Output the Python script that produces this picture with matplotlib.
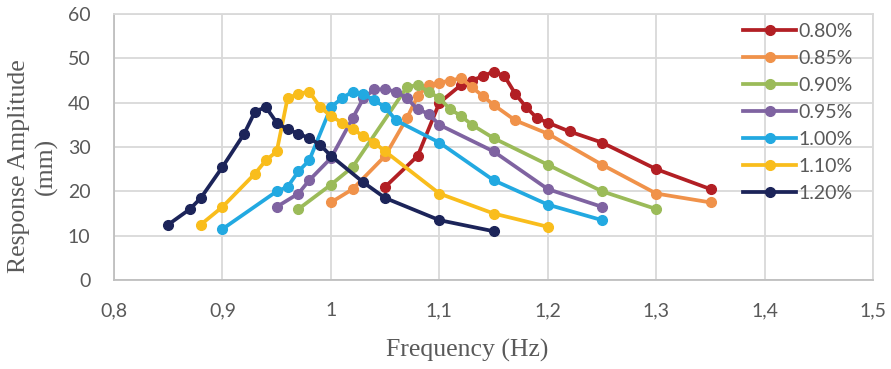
import matplotlib
matplotlib.use("Agg")
import matplotlib.pyplot as plt

# Frequency (Hz) and response amplitude (mm) for each damping ratio
f_080 = [1.05, 1.08, 1.10, 1.12, 1.13, 1.14, 1.15, 1.16, 1.17, 1.18, 1.19, 1.20, 1.22, 1.25, 1.30, 1.35]
a_080 = [21, 28, 40, 44, 45, 46, 47, 46, 42, 39, 36.5, 35.5, 33.5, 31, 25, 20.5]

f_085 = [1.00, 1.02, 1.05, 1.07, 1.08, 1.09, 1.10, 1.11, 1.12, 1.13, 1.14, 1.15, 1.17, 1.20, 1.25, 1.30, 1.35]
a_085 = [17.5, 20.5, 28, 36.5, 41.5, 44, 44.5, 45, 45.5, 43.5, 41.5, 39.5, 36, 33, 26, 19.5, 17.5]

f_090 = [0.97, 1.00, 1.02, 1.07, 1.08, 1.09, 1.10, 1.11, 1.12, 1.13, 1.15, 1.20, 1.25, 1.30]
a_090 = [16, 21.5, 25.5, 43.5, 44, 42.5, 41, 38.5, 37, 35, 32, 26, 20, 16]

f_095 = [0.95, 0.97, 0.98, 1.00, 1.02, 1.03, 1.04, 1.05, 1.06, 1.07, 1.08, 1.09, 1.10, 1.15, 1.20, 1.25]
a_095 = [16.5, 19.5, 22.5, 27.5, 36.5, 41, 43, 43, 42.5, 41, 38.5, 37.5, 35, 29, 20.5, 16.5]

f_100 = [0.90, 0.95, 0.96, 0.97, 0.98, 1.00, 1.01, 1.02, 1.03, 1.04, 1.05, 1.06, 1.10, 1.15, 1.20, 1.25]
a_100 = [11.5, 20, 21, 24.5, 27, 39, 41, 42.5, 42, 40.5, 39, 36, 31, 22.5, 17, 13.5]

f_110 = [0.88, 0.90, 0.93, 0.94, 0.95, 0.96, 0.97, 0.98, 0.99, 1.00, 1.01, 1.02, 1.03, 1.04, 1.05, 1.10, 1.15, 1.20]
a_110 = [12.5, 16.5, 24, 27, 29, 41, 42, 42.5, 39, 37, 35.5, 34, 32.5, 31, 29, 19.5, 15, 12]

f_120 = [0.85, 0.87, 0.88, 0.90, 0.92, 0.93, 0.94, 0.95, 0.96, 0.97, 0.98, 0.99, 1.00, 1.03, 1.05, 1.10, 1.15]
a_120 = [12.5, 16, 18.5, 25.5, 33, 38, 39, 35.5, 34, 33, 32, 30.5, 28, 22, 18.5, 13.5, 11]

labels = ["0.80%", "0.85%", "0.90%", "0.95%", "1.00%", "1.10%", "1.20%"]
colors = ["#B21F24", "#F0924A", "#9BBB59", "#7F63A1", "#22A9E1", "#F9BD1C", "#1C2459"]

x_ticks = [0.8, 0.9, 1.0, 1.1, 1.2, 1.3, 1.4, 1.5]
x_tick_labels = ["0,8", "0,9", "1", "1,1", "1,2", "1,3", "1,4", "1,5"]
y_ticks = [0, 10, 20, 30, 40, 50, 60]

series = [(f_080, a_080), (f_085, a_085), (f_090, a_090), (f_095, a_095),
          (f_100, a_100), (f_110, a_110), (f_120, a_120)]

W, H = 891, 369
fig = plt.figure(figsize=(W / 100, H / 100), dpi=100)
ax = fig.add_axes([0.128, 0.2412, 0.852, 0.7208])

for (fx, ay), lab, col in zip(series, labels, colors):
    ax.plot(fx, ay, color=col, linewidth=2.7, marker="o", markersize=7,
            label=lab, solid_joinstyle="round", zorder=3)

ax.set_xlim(0.8, 1.5)
ax.set_ylim(0, 60)
ax.set_xticks(x_ticks)
ax.set_xticklabels(x_tick_labels)
ax.set_yticks(y_ticks)

grid_col = "#D9D9D9"
ax.grid(True, color=grid_col, linewidth=1.3, zorder=0)
ax.set_axisbelow(True)
for side in ["top", "right"]:
    ax.spines[side].set_color(grid_col)
    ax.spines[side].set_linewidth(1.3)
for side in ["left", "bottom"]:
    ax.spines[side].set_color("#BFBFBF")
    ax.spines[side].set_linewidth(1.3)

ax.tick_params(length=0, labelsize=14, labelcolor="#595959")
ax.tick_params(axis="y", pad=17)
ax.tick_params(axis="x", pad=16)
for t in ax.get_xticklabels() + ax.get_yticklabels():
    t.set_family("Lato")

fig.text(467 / W, 1 - 350 / H, "Frequency (Hz)", family="Liberation Serif",
         fontsize=18.5, color="#595959", ha="center", va="center")
fig.text(33 / W, 1 - 166 / H, "Response Amplitude\n(mm)", family="Liberation Serif",
         fontsize=18.5, color="#595959", ha="center", va="center",
         rotation=90, linespacing=1.25, multialignment="center")

leg = ax.legend(loc="upper left", bbox_to_anchor=(0.818, 0.995),
                frameon=False, handlelength=2.75, handletextpad=0.1,
                labelspacing=0.51, borderaxespad=0,
                prop={"family": "Lato", "size": 14})
for t in leg.get_texts():
    t.set_color("#595959")

fig.savefig("out.png", dpi=100)
